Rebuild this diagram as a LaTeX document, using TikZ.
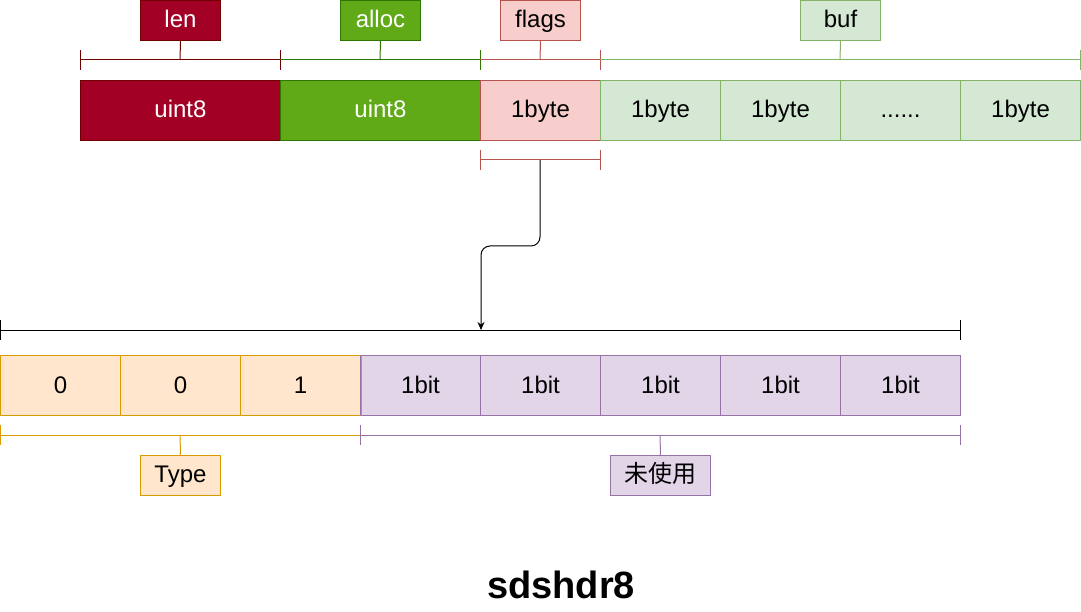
\documentclass[tikz,border=0pt]{standalone}
\usepackage{fontspec}
\setmainfont{Liberation Sans}
\newfontfamily\cjk{Noto Sans CJK SC}
\usetikzlibrary{arrows.meta}
\definecolor{lenF}{HTML}{A20025}\definecolor{lenD}{HTML}{6F0000}
\definecolor{alF}{HTML}{60A917}\definecolor{alD}{HTML}{2D7600}
\definecolor{flF}{HTML}{F8CECC}\definecolor{flD}{HTML}{B85450}
\definecolor{bfF}{HTML}{D5E8D4}\definecolor{bfD}{HTML}{82B366}
\definecolor{orF}{HTML}{FFE6CC}\definecolor{orD}{HTML}{D79B00}
\definecolor{puF}{HTML}{E1D5E7}\definecolor{puD}{HTML}{9673A6}
\tikzset{
  cell/.style={draw, rectangle, inner sep=0pt, minimum height=60pt, line width=1pt,
    font=\fontsize{24}{26}\selectfont, text height=15pt, text depth=0pt, anchor=north west},
  tag/.style={draw, rectangle, inner sep=0pt, minimum width=80pt, minimum height=40pt, line width=1pt,
    font=\fontsize{24}{26}\selectfont, text height=14pt, text depth=0pt, anchor=north west},
  brk/.style={line width=1pt},
}
\begin{document}
\begin{tikzpicture}[x=1pt,y=-1pt]
\useasboundingbox (0,0) rectangle (1081,612);
% top row
\node[cell, minimum width=200pt, fill=lenF, draw=lenD, text=white] (c1) at (80,80) {uint8};
\node[cell, minimum width=200pt, fill=alF, draw=alD, text=white] (c2) at (280,80) {uint8};
\node[cell, minimum width=120pt, fill=flF, draw=flD] (c3) at (480,80) {1byte};
\node[cell, minimum width=120pt, fill=bfF, draw=bfD] (c4) at (600,80) {1byte};
\node[cell, minimum width=120pt, fill=bfF, draw=bfD] (c5) at (720,80) {1byte};
\node[cell, minimum width=120pt, fill=bfF, draw=bfD] (c6) at (840,80) {......};
\node[cell, minimum width=120pt, fill=bfF, draw=bfD] (c7) at (960,80) {1byte};
% top tags
\node[tag, fill=lenF, draw=lenD, text=white] (tlen) at (140,0) {len};
\node[tag, fill=alF, draw=alD, text=white] (talloc) at (340,0) {alloc};
\node[tag, fill=flF, draw=flD] (tflags) at (500,0) {flags};
\node[tag, fill=bfF, draw=bfD] (tbuf) at (800,0) {buf};
% top brackets
\coordinate (blen) at (180,60);
\coordinate (balloc) at (380,60);
\coordinate (bflags) at (540,60);
\coordinate (bbuf) at (840,60);
\draw[brk, lenD] (80,50) -- (80,70) (80,60) -- (280,60) (280,50) -- (280,70);
\draw[brk, lenD] (tlen.south) -- (blen);
\draw[brk, alD] (280,60) -- (480,60) (480,50) -- (480,70);
\draw[brk, alD] (talloc.south) -- (balloc);
\draw[brk, flD] (480,60) -- (600,60) (600,50) -- (600,70);
\draw[brk, flD] (tflags.south) -- (bflags);
\draw[brk, bfD] (600,60) -- (1080,60) (1080,50) -- (1080,70);
\draw[brk, bfD] (tbuf.south) -- (bbuf);
% flags lower bracket
\coordinate (fl) at (540,160);
\draw[brk, flD] (480,150) -- (480,170) (480,160) -- (600,160) (600,150) -- (600,170);
% bottom black bracket
\coordinate (bb) at (481,330);
\draw[brk, black] (0,320) -- (0,340) (0,330) -- (960,330) (960,320) -- (960,340);
% connector
\draw[line width=1pt, rounded corners=9pt, -{Stealth[length=8pt,width=7pt]}]
  (fl) -- (540,246) -- (481,246) -- (bb);
% bottom row
\node[cell, minimum width=120pt, fill=orF, draw=orD] (b1) at (0,355) {0};
\node[cell, minimum width=120pt, fill=orF, draw=orD] (b2) at (120,355) {0};
\node[cell, minimum width=120pt, fill=orF, draw=orD] (b3) at (240,355) {1};
\node[cell, minimum width=120pt, fill=puF, draw=puD] (b4) at (360,355) {1bit};
\node[cell, minimum width=120pt, fill=puF, draw=puD] (b5) at (480,355) {1bit};
\node[cell, minimum width=120pt, fill=puF, draw=puD] (b6) at (600,355) {1bit};
\node[cell, minimum width=120pt, fill=puF, draw=puD] (b7) at (720,355) {1bit};
\node[cell, minimum width=120pt, fill=puF, draw=puD] (b8) at (840,355) {1bit};
\draw[line width=1pt, orD] (b3.north east) -- (b3.south east);
% bottom tags
\node[tag, fill=orF, draw=orD] (ttype) at (140,455) {Type};
\node[tag, minimum width=100pt, fill=puF, draw=puD, font=\cjk\fontsize{24}{26}\selectfont] (tunused) at (610,455) {未使用};
\coordinate (btype) at (180,435);
\coordinate (bunused) at (660,435);
\draw[brk, orD] (0,425) -- (0,445) (0,435) -- (360,435);
\draw[brk, orD] (ttype.north) -- (btype);
\draw[brk, puD] (360,425) -- (360,445) (360,435) -- (960,435) (960,425) -- (960,445);
\draw[brk, puD] (tunused.north) -- (bunused);
% title
\node[font=\bfseries\fontsize{38}{40}\selectfont, anchor=base] (title) at (561,598) {sdshdr8};
\end{tikzpicture}
\end{document}
